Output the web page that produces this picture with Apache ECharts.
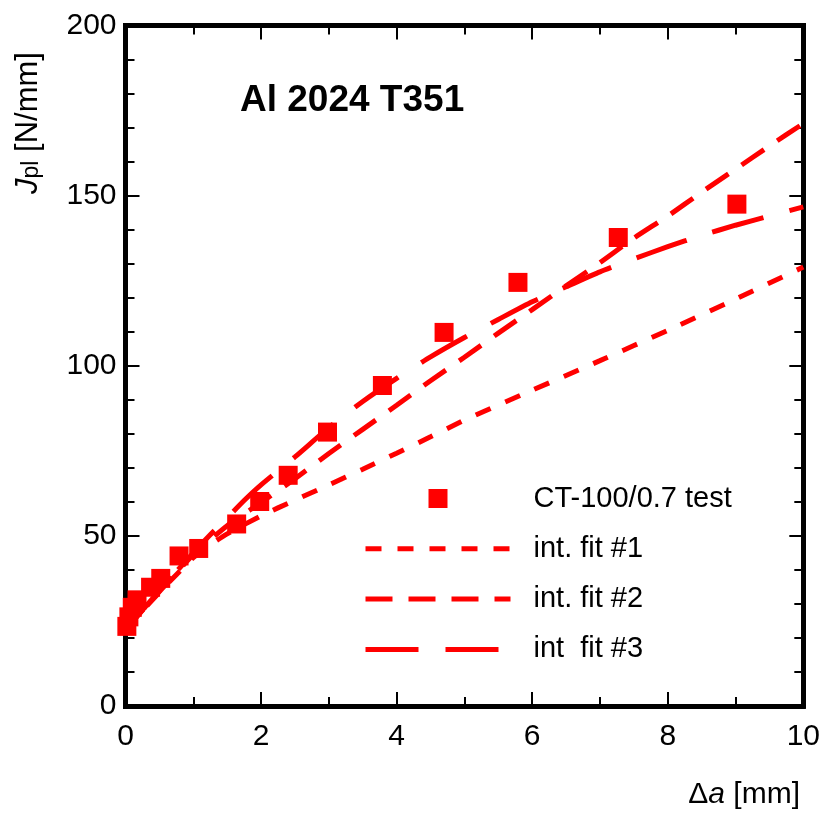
<!DOCTYPE html>
<html>
<head>
<meta charset="utf-8">
<script src="https://cdn.jsdelivr.net/npm/echarts@6/dist/echarts.min.js"></script>
<style>
  html, body { margin: 0; padding: 0; background: #fff; }
  #chart { width: 823px; height: 815px; }
</style>
</head>
<body>
<div id="chart"></div>
<script>
// Crack growth resistance test, Al 2024 T351, CT-100/0.7 specimen
const testDa = [0.02, 0.05, 0.10, 0.17, 0.37, 0.52, 0.79, 1.08, 1.64, 1.98, 2.40, 2.98, 3.79, 4.70, 5.79, 7.27, 9.02];
const testJ  = [23.4, 26.2, 29.0, 31.2, 34.9, 37.5, 44.1, 46.3, 53.5, 60.1, 67.8, 80.5, 94.2, 109.8, 124.5, 137.7, 147.5];

const fit1Da = [0, 0.25, 0.5, 0.75, 1, 1.25, 1.5, 2, 2.5, 3, 3.5, 4, 4.5, 5, 6, 7, 8, 9, 10];
const fit1J  = [22.5, 28.0, 33.4, 38.6, 43.6, 47.4, 50.6, 55.9, 60.5, 65.0, 69.6, 74.3, 79.1, 84.0, 92.8, 101.5, 110.4, 119.6, 129.0];

const fit2Da = [0, 0.25, 0.5, 0.75, 1, 1.5, 2, 2.5, 3, 3.5, 4, 4.5, 5, 5.5, 6, 6.5, 7, 7.5, 8, 8.5, 9, 9.5, 10];
const fit2J  = [22.5, 28.1, 33.6, 39.1, 44.5, 53.0, 59.8, 66.8, 74.2, 81.3, 88.4, 95.6, 102.5, 109.6, 116.5, 123.5, 130.3, 137.5, 144.0, 151.0, 157.8, 164.6, 171.2];

const fit3Da = [0, 0.25, 0.5, 0.75, 1, 1.25, 1.5, 1.75, 2, 2.5, 3, 3.5, 4, 4.5, 5, 5.5, 6, 6.5, 7, 7.5, 8, 8.5, 9, 9.5, 10];
const fit3J  = [22.5, 28.2, 33.8, 39.5, 45.0, 50.3, 55.3, 60.4, 65.0, 73.2, 81.8, 89.5, 96.3, 102.6, 108.3, 113.6, 118.8, 123.2, 127.6, 131.4, 135.0, 138.3, 141.3, 144.0, 146.7];

const seriesNames = ['CT-100/0.7 test', 'int. fit #1', 'int. fit #2', 'int  fit #3'];
const xTicks = { min: 0, max: 10, interval: 2 };
const yTicks = { min: 0, max: 200, interval: 50 };

const FONT = '"Liberation Sans", Arial, Helvetica, sans-serif';
const RED = '#ff0000';

const zip = (xs, ys) => xs.map((x, i) => [x, ys[i]]);

function frameAxis(base, showLabels, labelMargin, minorSplit) {
  return Object.assign({
    type: 'value',
    axisLine: { show: true, onZero: false, lineStyle: { color: '#000', width: 5, cap: 'square' } },
    axisTick: { show: true, inside: true, length: 14, lineStyle: { color: '#000', width: 2 } },
    minorTick: { show: true, splitNumber: minorSplit, length: 9, lineStyle: { color: '#000', width: 2 } },
    splitLine: { show: false },
    minorSplitLine: { show: false },
    axisLabel: {
      show: showLabels, margin: labelMargin, color: '#000',
      fontSize: 30, fontFamily: FONT
    }
  }, base);
}

// legend rows for the fitted curves show only their dashed line
const lineLegendItem = name => ({ name: name, itemStyle: { opacity: 0 } });

const chart = echarts.init(document.getElementById('chart'), null, { renderer: 'canvas' });

chart.setOption({
  backgroundColor: '#fff',
  animation: false,
  textStyle: { fontFamily: FONT },
  grid: { left: 125.5, right: 17.5, top: 25.5, bottom: 109, containLabel: false },
  title: {
    text: 'Al 2024 T351',
    left: 240, top: 82, padding: 0,
    textStyle: { fontFamily: FONT, fontSize: 37, fontWeight: 'bold', color: '#000', lineHeight: 37 }
  },
  xAxis: [
    frameAxis({ position: 'bottom', min: xTicks.min, max: xTicks.max, interval: xTicks.interval }, true, 16, 2),
    frameAxis({ position: 'top', min: xTicks.min, max: xTicks.max, interval: xTicks.interval }, false, 16, 2)
  ],
  yAxis: [
    frameAxis({ position: 'left', min: yTicks.min, max: yTicks.max, interval: yTicks.interval }, true, 9, 5),
    frameAxis({ position: 'right', min: yTicks.min, max: yTicks.max, interval: yTicks.interval }, false, 9, 5)
  ],
  legend: {
    orient: 'vertical',
    left: 363, top: 484, padding: 0,
    itemWidth: 145, itemHeight: 19, itemGap: 21.3,
    selectedMode: false,
    symbolKeepAspect: true,
    lineStyle: { width: 5 },
    textStyle: { fontFamily: FONT, fontSize: 29, color: '#000', padding: [0, 0, 0, 18] },
    data: [
      { name: seriesNames[0], icon: 'path://M0,0H10V10H0Z' },
      lineLegendItem(seriesNames[1]),
      lineLegendItem(seriesNames[2]),
      lineLegendItem(seriesNames[3])
    ]
  },
  graphic: [
    {
      type: 'text', x: 28, y: 123, rotation: Math.PI / 2,
      style: {
        text: '{j|J}{s|pl}{n| [N/mm]}',
        align: 'center', verticalAlign: 'middle', fill: '#000',
        rich: {
          j: { fontFamily: FONT, fontSize: 31, fontStyle: 'italic', fill: '#000', lineHeight: 31, verticalAlign: 'middle' },
          s: { fontFamily: FONT, fontSize: 23, fill: '#000', lineHeight: 31, padding: [12, 0, 0, 0], verticalAlign: 'bottom' },
          n: { fontFamily: FONT, fontSize: 31, fill: '#000', lineHeight: 31, verticalAlign: 'middle' }
        }
      }
    },
    {
      type: 'text', x: 800, y: 795,
      style: {
        text: '{n|Δ}{i|a}{n| [mm]}',
        align: 'right', verticalAlign: 'middle', fill: '#000',
        rich: {
          n: { fontFamily: FONT, fontSize: 30, fill: '#000' },
          i: { fontFamily: FONT, fontSize: 30, fontStyle: 'italic', fill: '#000' }
        }
      }
    }
  ],
  series: [
    {
      name: seriesNames[1], type: 'line', data: zip(fit1Da, fit1J),
      symbol: 'none', showSymbol: false, smooth: 0.2, z: 2,
      lineStyle: { color: RED, width: 5, type: [16, 16], cap: 'butt' },
      itemStyle: { color: RED }
    },
    {
      name: seriesNames[2], type: 'line', data: zip(fit2Da, fit2J),
      symbol: 'none', showSymbol: false, smooth: 0.2, z: 2,
      lineStyle: { color: RED, width: 5, type: [27, 16], cap: 'butt' },
      itemStyle: { color: RED }
    },
    {
      name: seriesNames[3], type: 'line', data: zip(fit3Da, fit3J),
      symbol: 'none', showSymbol: false, smooth: 0.2, z: 2,
      lineStyle: { color: RED, width: 5, type: [53, 27], cap: 'butt' },
      itemStyle: { color: RED }
    },
    {
      name: seriesNames[0], type: 'scatter', data: zip(testDa, testJ),
      symbol: 'rect', symbolSize: 19, z: 3,
      itemStyle: { color: RED, opacity: 1 }
    }
  ]
});
</script>
</body>
</html>
